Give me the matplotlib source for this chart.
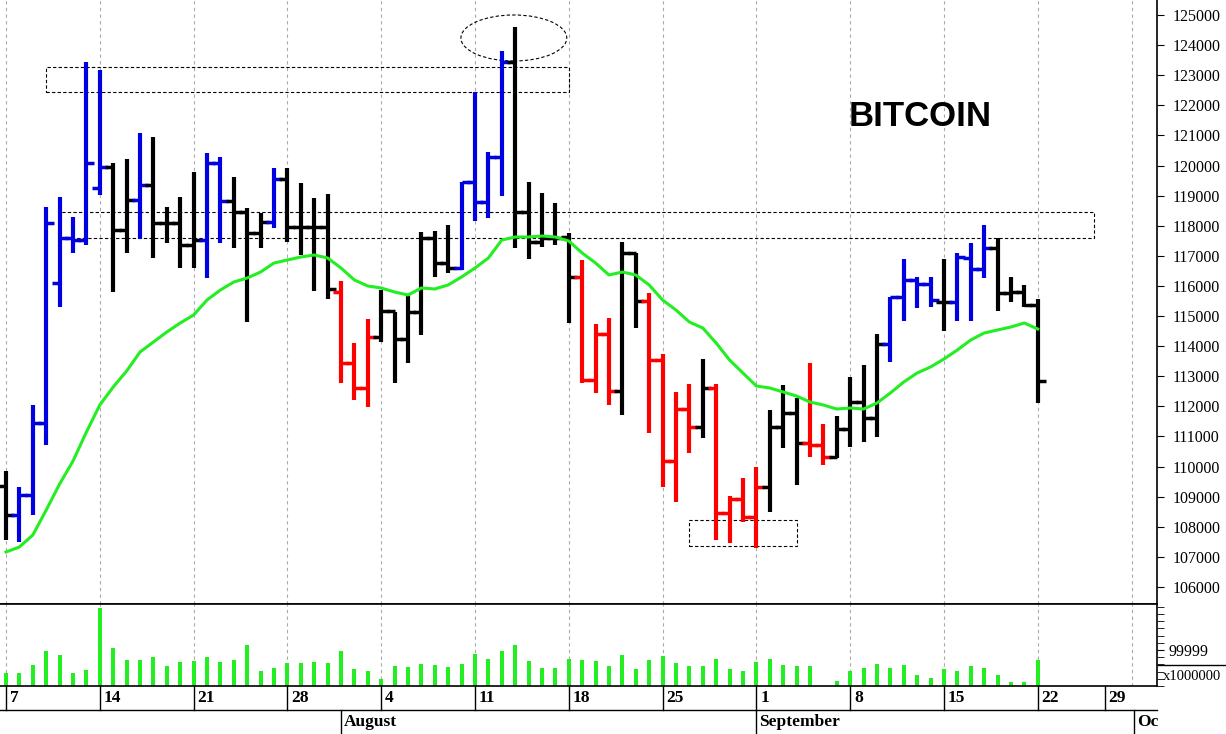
import matplotlib.pyplot as plt
import matplotlib.transforms as mtransforms
from matplotlib.patches import Rectangle, Ellipse

# daily bars, Jul 7 .. Sep 22
opens = [109340, 108400, 109050, 111445, 116097, 117592, 117525, 119253, 119950, 117857,
         118854, 119353, 118090, 118090, 117359, 117525, 120083, 118821, 118456, 117758,
         118123, 119552, 117957, 117957, 117957, 115798, 113439, 112609, 114303, 115167,
         114236, 115134, 117592, 116761, 116595, 119452, 118788, 120283, 123439, 118456,
         117459, 117592, 117625, 116296, 112875, 114403, 112510, 117094, 115499, 113539,
         110184, 111911, 111314, 112609, 108456, 108921, 108323, 109320, 111314, 111778,
         110780, 110715, 110316, 111246, 112144, 111612, 114071, 115632, 116197, 116063,
         115466, 115466, 116927, 116562, 117260, 115765, 115798, 115366]
highs = [109840, 109320, 112044, 118622, 118954, 118290, 123439, 123173, 120083, 120216,
         121080, 120947, 118622, 118954, 119784, 120416, 120283, 119618, 118588, 118422,
         119917, 119917, 119419, 118921, 119054, 116163, 114104, 114901, 115865, 115134,
         115698, 117791, 117824, 118023, 119452, 122442, 120449, 123804, 124601, 119452,
         119087, 118755, 117758, 116861, 114735, 114934, 117459, 117094, 115765, 113738,
         112476, 112742, 113572, 112742, 109021, 109619, 109984, 111878, 112709, 112277,
         113439, 111413, 111679, 112974, 113373, 114403, 115632, 116894, 116296, 116296,
         116894, 117094, 117426, 118023, 117592, 116296, 116031, 115566]
lows = [107570, 107490, 108390, 110715, 115300, 117094, 117359, 119020, 115798, 117094,
        117559, 116928, 117426, 116595, 116595, 116263, 117426, 117260, 114801, 117260,
        117924, 117459, 117027, 115831, 115566, 112775, 112210, 111978, 114137, 112775,
        113439, 114370, 116296, 116429, 116529, 118157, 118256, 118987, 117260, 116894,
        117293, 117359, 114768, 112775, 112443, 112045, 111712, 114602, 111114, 109320,
        108822, 110450, 110948, 107560, 107460, 108156, 107294, 108489, 110616, 109385,
        110316, 110051, 110284, 110649, 110815, 110981, 113473, 114834, 115267, 115300,
        114502, 114834, 114834, 116263, 115167, 115466, 115300, 112110]
closes = [108400, 109050, 111445, 118090, 117592, 117525, 120083, 119950, 117857, 118854,
          119353, 118090, 118090, 117359, 117525, 120083, 118821, 118456, 117758, 118123,
          119552, 117957, 117957, 117957, 115898, 113439, 112609, 114303, 115167, 114236,
          115134, 117592, 116761, 116595, 119452, 118788, 120283, 123439, 118456, 117459,
          117592, 117592, 116296, 112875, 114403, 112510, 117094, 115499, 113539, 110184,
          111911, 111314, 112609, 108456, 108921, 108323, 109320, 111314, 111778, 110780,
          110715, 110316, 111246, 112144, 111612, 114071, 115632, 116197, 116063, 115532,
          115466, 116961, 116562, 117260, 115765, 115798, 115366, 112841]
colors = list("kbbbbbbbkkbkkkkbbkkkbkkkkrrrkkkkkkbbbbkkkkkrrrkkrrrrkrrrrkkkrrkkkkbbbbkbbbkkkk")
moving_avg = [107161, 107327, 107726, 108556, 109420, 110184, 111147, 112044, 112642, 113174,
              113805, 114137, 114469, 114768, 115034, 115532, 115864, 116130, 116263, 116462,
              116761, 116861, 116961, 117027, 116928, 116595, 116197, 115997, 115931, 115798,
              115698, 115931, 115898, 116031, 116296, 116595, 116928, 117525, 117625, 117625,
              117658, 117625, 117492, 117094, 116761, 116363, 116462, 116363, 116031, 115532,
              115200, 114801, 114602, 114104, 113539, 113107, 112675, 112609, 112476, 112343,
              112144, 112044, 111911, 111944, 111911, 112110, 112443, 112808, 113107, 113307,
              113572, 113871, 114203, 114436, 114536, 114635, 114768, 114569]
volume = [36, 36, 58, 97, 86, 36, 44, 217, 106, 72,
          72, 81, 56, 67, 69, 81, 67, 72, 114, 42,
          50, 64, 64, 67, 64, 97, 47, 42, 19, 56,
          53, 61, 58, 53, 61, 89, 75, 97, 114, 69,
          50, 50, 75, 72, 69, 56, 86, 47, 72, 83,
          64, 56, 56, 75, 47, 42, 67, 75, 58, 56,
          56, 1, 14, 42, 50, 61, 50, 58, 31, 22,
          47, 42, 56, 50, 31, 11, 11, 72]

day_labels = ["7", "14", "21", "28", "4", "11", "18", "25", "1", "8", "15", "22", "29"]
day_pos = [0, 7, 14, 21, 28, 35, 42, 49, 56, 63, 70, 77, 82]
month_labels = ["August", "September", "Oc"]
month_pos = [25, 56, 84.2]
grid_pos = [0, 7, 14, 21, 28, 35, 42, 49, 56, 63, 70, 77, 84]

cmap = {"k": "black", "b": "#0000e0", "r": "#ff0000"}
serif = "Liberation Serif"

fig = plt.figure(figsize=(12.26, 7.34), dpi=100)
ax = fig.add_axes([0, 0.1771, 0.9437, 0.8229])
axv = fig.add_axes([0, 0.0654, 0.9437, 0.1117], sharex=ax)

xs = list(range(len(opens)))
for i in xs:
    c = cmap[colors[i]]
    ax.vlines(i, lows[i], highs[i], color=c, lw=3.0)
    ax.hlines(opens[i], i - 0.6, i, color=c, lw=2.5)
    ax.hlines(closes[i], i, i + 0.6, color=c, lw=2.5)
ax.plot(xs, moving_avg, color="#22ee22", lw=2.2)

# annotations
ax.add_patch(Rectangle((3.0, 122442), 39.0, 831, fill=False, ls=(0, (3, 2)), lw=0.8, color="black"))
ax.add_patch(Rectangle((4.0, 117592), 77.2, 864, fill=False, ls=(0, (3, 2)), lw=0.8, color="black"))
ax.add_patch(Rectangle((51.0, 107360), 8.0, 864, fill=False, ls=(0, (3, 2)), lw=0.8, color="black"))
ax.add_patch(Ellipse((37.9, 124236), 7.9, 1528, fill=False, ls=(0, (3, 2)), lw=0.8, color="black"))
ax.text(68.2, 121612, "BITCOIN", fontsize=25, fontweight="bold", family="Liberation Sans",
        ha="center", va="center")

ax.set_xlim(-0.45, 85.9)
ax.set_ylim(105433, 125498)
ax.yaxis.tick_right()
ax.set_yticks(range(106000, 125001, 1000))
ax.set_yticklabels([str(v) for v in range(106000, 125001, 1000)], family=serif, fontsize=11.5)
ax.tick_params(axis="y", length=5, pad=6)
ax.tick_params(axis="x", bottom=False, labelbottom=False)
for s in ["left", "top"]:
    ax.spines[s].set_visible(False)

axv.bar(xs, volume, width=0.3, color="#22ee22")
axv.set_ylim(0, 228)
axv.yaxis.tick_right()
axv.set_yticks([100])
axv.set_yticklabels(["99999"], family=serif, fontsize=11.5)
axv.set_yticks(range(0, 228, 20), minor=True)
axv.tick_params(axis="y", which="both", length=5)
axv.tick_params(axis="x", bottom=False, labelbottom=False)
axv.spines["left"].set_visible(False)
for s in ["top", "bottom", "right"]:
    axv.spines[s].set_linewidth(1.2)
ax.spines["bottom"].set_linewidth(1.2)
ax.spines["right"].set_linewidth(1.2)

for g in grid_pos:
    ax.axvline(g, color="#aaaaaa", ls=(0, (3, 3)), lw=0.8, zorder=0)
    axv.axvline(g, color="#aaaaaa", ls=(0, (3, 3)), lw=0.8, zorder=0)

# date rows below the volume panel
tr = mtransforms.blended_transform_factory(axv.transData, axv.transAxes)
row = 24 / 82
axv.plot([-0.45, 85.9], [-row, -row], color="black", lw=1.0, transform=tr, clip_on=False)
for lab, p in zip(day_labels, day_pos):
    axv.plot([p, p], [0, -row], color="black", lw=1.0, transform=tr, clip_on=False)
    axv.text(p + 0.3, -row / 2, lab, transform=tr, ha="left", va="center",
             family=serif, fontweight="bold", fontsize=12.5)
for lab, p in zip(month_labels, month_pos):
    axv.plot([p, p], [-row, -2 * row], color="black", lw=1.0, transform=tr, clip_on=False)
    axv.text(p + 0.2, -1.5 * row, lab, transform=tr, ha="left", va="center",
             family=serif, fontweight="bold", fontsize=12.5)

fig.text(1163 / 1226, 1 - 677 / 734, "x1000000", family=serif, fontsize=10.5, va="center")
fig.add_artist(plt.Line2D([1158 / 1226, 1], [1 - 665 / 734] * 2, color="black", lw=1.0))

fig.savefig("out.png", dpi=100)
